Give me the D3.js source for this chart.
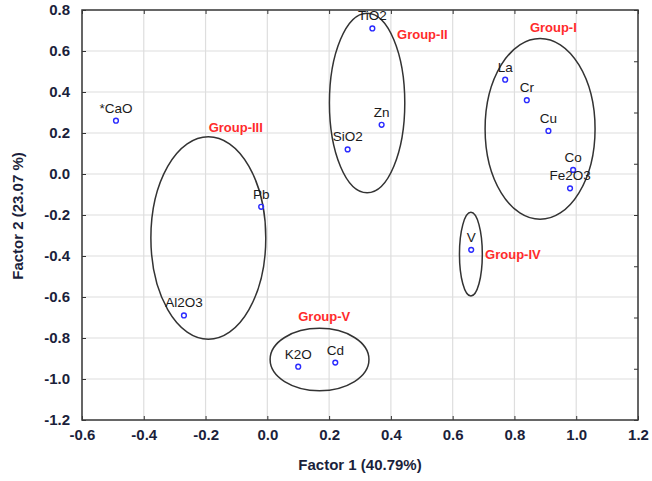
<!DOCTYPE html>
<html>
<head>
<meta charset="utf-8">
<script src="https://cdn.jsdelivr.net/npm/d3@7"></script>
<style>
  body { margin: 0; background: #fff; }
  svg { font-family: "Liberation Sans", Arial, sans-serif; }
  .tick text { font-size: 15px; font-weight: bold; fill: #1b1f3b; }
  .tick line { stroke: #333; }
  .domain { stroke: none; }
</style>
</head>
<body>
<div id="chart"></div>
<script>
// loadings
var names = ["*CaO", "TiO2", "Zn", "SiO2", "La", "Cr", "Cu", "Co", "Fe2O3", "Pb", "Al2O3", "K2O", "Cd", "V"];
var factor1 = [-0.49, 0.34, 0.37, 0.26, 0.77, 0.84, 0.91, 0.99, 0.98, -0.02, -0.27, 0.10, 0.22, 0.66];
var factor2 = [0.26, 0.71, 0.24, 0.12, 0.46, 0.36, 0.21, 0.02, -0.07, -0.16, -0.69, -0.94, -0.92, -0.37];

// group ellipses (centre and radii, in factor units)
var groupNames = ["Group-I", "Group-II", "Group-III", "Group-IV", "Group-V"];
var groupCx = [0.883, 0.323, -0.191, 0.659, 0.169];
var groupCy = [0.220, 0.346, -0.312, -0.391, -0.905];
var groupRx = [0.178, 0.122, 0.186, 0.037, 0.160];
var groupRy = [0.441, 0.438, 0.494, 0.204, 0.152];
// where each group name sits (left edge, middle)
var groupLabelX = [0.85, 0.42, -0.19, 0.705, 0.10];
var groupLabelY = [0.715, 0.68, 0.225, -0.39, -0.695];

var xTicks = [-0.6, -0.4, -0.2, 0.0, 0.2, 0.4, 0.6, 0.8, 1.0, 1.2];
var yTicks = [0.8, 0.6, 0.4, 0.2, 0.0, -0.2, -0.4, -0.6, -0.8, -1.0, -1.2];

var svgWidth = 652;
var svgHeight = 481;
var margin = { top: 10, right: 14, bottom: 61, left: 82 };
var width = svgWidth - margin.left - margin.right;
var height = svgHeight - margin.top - margin.bottom;

var svg = d3.select("#chart")
  .append("svg")
  .attr("width", svgWidth)
  .attr("height", svgHeight);

var chartGroup = svg.append("g")
  .attr("transform", `translate(${margin.left}, ${margin.top})`);

var x = d3.scaleLinear().domain([-0.6, 1.2]).range([0, width]);
var y = d3.scaleLinear().domain([-1.2, 0.8]).range([height, 0]);

// gridlines
chartGroup.append("g")
  .selectAll("line.vg")
  .data(xTicks)
  .enter()
  .append("line")
  .attr("x1", d => x(d)).attr("x2", d => x(d))
  .attr("y1", 0).attr("y2", height)
  .attr("stroke", "#dedede").attr("stroke-width", 1.2);

chartGroup.append("g")
  .selectAll("line.hg")
  .data(yTicks)
  .enter()
  .append("line")
  .attr("x1", 0).attr("x2", width)
  .attr("y1", d => y(d)).attr("y2", d => y(d))
  .attr("stroke", "#dedede").attr("stroke-width", 1.2);

// axes, ticks pointing inward
chartGroup.append("g")
  .attr("transform", `translate(0, ${height})`)
  .call(d3.axisBottom(x).tickValues(xTicks).tickFormat(d3.format(".1f")).tickSize(-4).tickPadding(9));

chartGroup.append("g")
  .call(d3.axisLeft(y).tickValues(yTicks).tickFormat(d3.format(".1f")).tickSize(-4).tickPadding(12));

chartGroup.append("g")
  .call(d3.axisTop(x).tickValues(xTicks).tickFormat("").tickSize(-4));

// the right side has its own tick spacing in the original
chartGroup.append("g")
  .attr("transform", `translate(${width}, 0)`)
  .call(d3.axisRight(y).tickValues(d3.range(0.8, -1.25, -0.25)).tickFormat("").tickSize(-4));

// replace minus sign with plain hyphen like the original
chartGroup.selectAll(".tick text").text(function() {
  return d3.select(this).text().replace("\u2212", "-");
});

// frame
chartGroup.append("rect")
  .attr("width", width)
  .attr("height", height)
  .attr("fill", "none")
  .attr("stroke", "#3a3a3a")
  .attr("stroke-width", 1.5);

// ellipses
chartGroup.append("g")
  .selectAll("ellipse")
  .data(groupNames)
  .enter()
  .append("ellipse")
  .attr("cx", (d, i) => x(groupCx[i]))
  .attr("cy", (d, i) => y(groupCy[i]))
  .attr("rx", (d, i) => x(groupRx[i]) - x(0))
  .attr("ry", (d, i) => y(0) - y(groupRy[i]))
  .attr("fill", "none")
  .attr("stroke", "#333")
  .attr("stroke-width", 1.5);

chartGroup.append("g")
  .selectAll("text")
  .data(groupNames)
  .enter()
  .append("text")
  .attr("x", (d, i) => x(groupLabelX[i]))
  .attr("y", (d, i) => y(groupLabelY[i]))
  .attr("dy", "0.35em")
  .attr("fill", "#ff2b2b")
  .attr("font-size", 13)
  .attr("font-weight", "bold")
  .text(d => d);

// points
var pts = chartGroup.append("g")
  .selectAll("g")
  .data(names)
  .enter()
  .append("g");

pts.append("circle")
  .attr("cx", (d, i) => x(factor1[i]))
  .attr("cy", (d, i) => y(factor2[i]))
  .attr("r", 2.4)
  .attr("fill", "none")
  .attr("stroke", "#2a2aff")
  .attr("stroke-width", 1.4);

pts.append("text")
  .attr("x", (d, i) => x(factor1[i]))
  .attr("y", (d, i) => y(factor2[i]) - 8)
  .attr("text-anchor", "middle")
  .attr("font-size", 13.5)
  .attr("fill", "#1a1a1a")
  .text(d => d);

// axis titles
svg.append("text")
  .attr("x", 360)
  .attr("y", 465)
  .attr("dy", "0.35em")
  .attr("text-anchor", "middle")
  .attr("font-size", 15)
  .attr("font-weight", "bold")
  .attr("fill", "#1b1f3b")
  .text("Factor 1 (40.79%)");

svg.append("text")
  .attr("transform", "translate(18, 216) rotate(-90)")
  .attr("dy", "0.35em")
  .attr("text-anchor", "middle")
  .attr("font-size", 15)
  .attr("font-weight", "bold")
  .attr("fill", "#1b1f3b")
  .text("Factor 2 (23.07 %)");
</script>
</body>
</html>
